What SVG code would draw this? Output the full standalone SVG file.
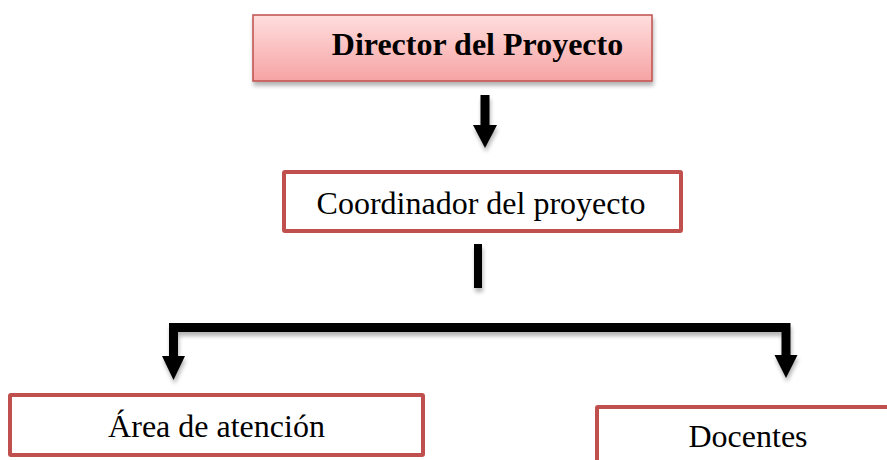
<svg xmlns="http://www.w3.org/2000/svg" width="887" height="460" viewBox="0 0 887 460">
<defs>
<linearGradient id="pink" x1="0" y1="0" x2="0" y2="1">
<stop offset="0" stop-color="#ffdede"/>
<stop offset="1" stop-color="#f6a3a3"/>
</linearGradient>
<filter id="sh" x="-10%" y="-20%" width="120%" height="150%">
<feGaussianBlur in="SourceAlpha" stdDeviation="2"/>
<feOffset dx="1" dy="4"/>
<feComponentTransfer><feFuncA type="linear" slope="0.3"/></feComponentTransfer>
<feMerge><feMergeNode/><feMergeNode in="SourceGraphic"/></feMerge>
</filter>
</defs>
<style>
.box{fill:#ffffff;stroke:#c0504d;stroke-width:4}
.lbl{font-family:"Liberation Serif","Times New Roman",serif;font-size:32px;fill:#000;text-anchor:middle}
.line{stroke:#000;stroke-width:9;fill:none}
.head{fill:#000}
</style>
<g id="director">
<rect x="253" y="15" width="399" height="66" fill="url(#pink)" stroke="#c0504d" stroke-width="1.5" filter="url(#sh)"/>
<text class="lbl" x="477.5" y="55" font-weight="bold">Director del Proyecto</text>
</g>
<g id="coordinador">
<rect class="box" x="284" y="172" width="397" height="59" rx="1"/>
<text class="lbl" x="481" y="214">Coordinador del proyecto</text>
</g>
<g id="area">
<rect class="box" x="10" y="395" width="413" height="60" rx="1"/>
<text class="lbl" x="216.5" y="437">Área de atención</text>
</g>
<g id="docentes">
<rect class="box" x="597" y="407" width="300" height="70" rx="1"/>
<text class="lbl" x="748" y="447">Docentes</text>
</g>
<g id="connectors" filter="url(#sh)">
<line class="line" x1="485" y1="95" x2="485" y2="127"/>
<polygon class="head" points="473,125 497,125 485,148"/>
<line x1="478" y1="244" x2="478" y2="288" stroke="#000" stroke-width="8"/>
<polyline class="line" points="173.5,358 173.5,327.5 786,327.5 786,358"/>
<polygon class="head" points="162,356 185,356 173.5,380"/>
<polygon class="head" points="774.5,355 797.5,355 786,378"/>
</g>
</svg>
